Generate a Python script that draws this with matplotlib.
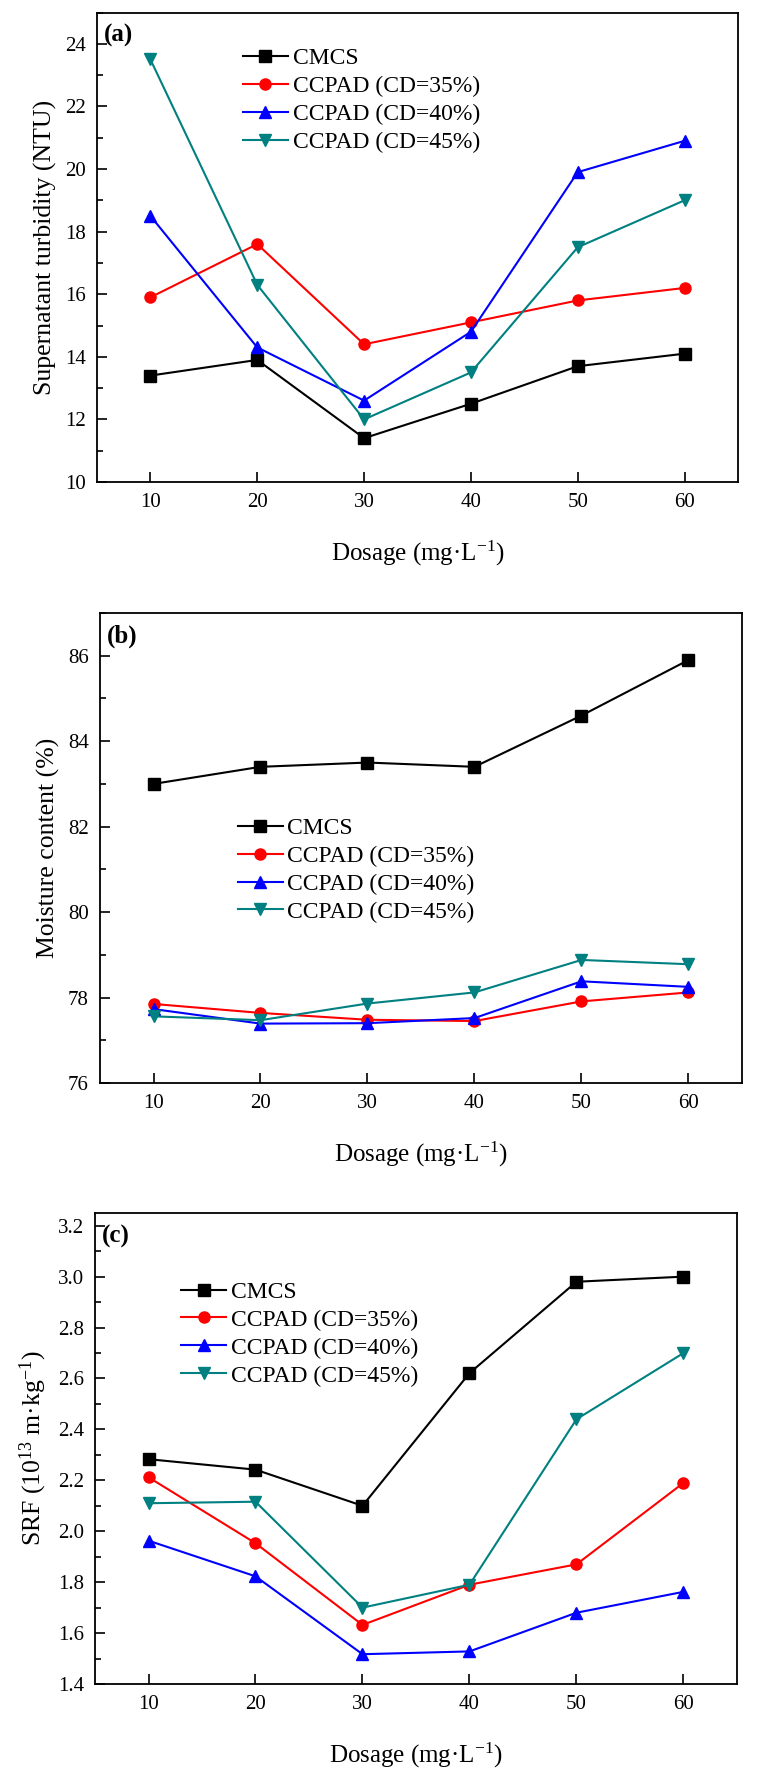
import numpy as np
import matplotlib
matplotlib.use("Agg")
import matplotlib.pyplot as plt
from matplotlib.ticker import MultipleLocator, FormatStrFormatter

plt.rcParams['font.family'] = ['Liberation Serif', 'DejaVu Serif']
plt.rcParams['mathtext.fontset'] = 'custom'
plt.rcParams['mathtext.rm'] = 'Liberation Serif'
plt.rcParams['mathtext.it'] = 'Liberation Serif:italic'

# dosage (mg/L)
dosage = [10, 20, 30, 40, 50, 60]
labels = ["CMCS", "CCPAD (CD=35%)", "CCPAD (CD=40%)", "CCPAD (CD=45%)"]
colors = ["black", "#ff0000", "#0000ff", "#008080"]
markers = ["s", "o", "^", "v"]

# (a) supernatant turbidity (NTU)
turb_cmcs = [13.4, 13.9, 11.4, 12.5, 13.7, 14.1]
turb_cd35 = [15.9, 17.6, 14.4, 15.1, 15.8, 16.2]
turb_cd40 = [18.5, 14.3, 12.6, 14.8, 19.9, 20.9]
turb_cd45 = [23.5, 16.3, 12.0, 13.5, 17.5, 19.0]

# (b) moisture content (%)
moist_cmcs = [83.0, 83.4, 83.5, 83.4, 84.6, 85.9]
moist_cd35 = [77.85, 77.64, 77.48, 77.45, 77.91, 78.12]
moist_cd40 = [77.73, 77.39, 77.40, 77.52, 78.38, 78.25]
moist_cd45 = [77.56, 77.47, 77.86, 78.12, 78.88, 78.78]

# (c) SRF (10^13 m/kg)
srf_cmcs = [2.283, 2.242, 2.100, 2.621, 2.980, 3.000]
srf_cd35 = [2.212, 1.953, 1.632, 1.790, 1.870, 2.190]
srf_cd40 = [1.963, 1.823, 1.517, 1.528, 1.680, 1.762]
srf_cd45 = [2.110, 2.116, 1.700, 1.790, 2.440, 2.700]

W, H = 758, 1777
fig = plt.figure(figsize=(W / 100, H / 100), dpi=100)


def make_ax(left, right, top, bottom):
    # pixel box -> figure fraction
    return fig.add_axes([left / W, (H - bottom) / H, (right - left) / W, (bottom - top) / H])


def style(ax, series, ylim, ymaj, ymin, ylabel, tag, leg_pos):
    for ys, lab, c, m in zip(series, labels, colors, markers):
        ax.plot(dosage, ys, color=c, marker=m, markersize=8, lw=1.5, label=lab)
    ax.set_xlim(5, 65)
    ax.set_ylim(*ylim)
    ax.set_xticks(dosage)
    ax.yaxis.set_major_locator(MultipleLocator(ymaj))
    ax.yaxis.set_minor_locator(MultipleLocator(ymin))
    ax.tick_params(direction='in', which='major', length=7, width=1.2, labelsize=15, pad=8)
    ax.tick_params(direction='in', which='minor', length=4, width=1.2)
    for s in ax.spines.values():
        s.set_linewidth(1.3)
    ax.set_xlabel("Dosage (mg·L$^{\\mathrm{-1}}$)", fontsize=18, labelpad=19)
    ax.set_ylabel(ylabel, fontsize=18.5, labelpad=6)
    ax.text(0.01, 0.975, tag, transform=ax.transAxes, fontsize=18, fontweight='bold',
            va='top', ha='left')
    ax.legend(loc='upper left', bbox_to_anchor=leg_pos, frameon=False, fontsize=17,
              handlelength=1.9, handletextpad=0.2, labelspacing=0.27, borderaxespad=0)


ax1 = make_ax(97, 738, 12.5, 482)
style(ax1, [turb_cmcs, turb_cd35, turb_cd40, turb_cd45], (10, 25), 2, 1,
      "Supernatant turbidity (NTU)", "(a)", (0.213, 0.945))

ax2 = make_ax(100, 742, 613, 1083)
style(ax2, [moist_cmcs, moist_cd35, moist_cd40, moist_cd45], (76, 87), 2, 1,
      "Moisture content (%)", "(b)", (0.2, 0.585))

ax3 = make_ax(95, 737, 1213, 1684)
style(ax3, [srf_cmcs, srf_cd35, srf_cd40, srf_cd45], (1.4, 3.25), 0.2, 0.1,
      "SRF (10$^{\\mathrm{13}}$ m·kg$^{\\mathrm{-1}}$)", "(c)", (0.12, 0.875))
ax3.yaxis.set_major_formatter(FormatStrFormatter('%.1f'))

fig.savefig("out.png", dpi=100)
